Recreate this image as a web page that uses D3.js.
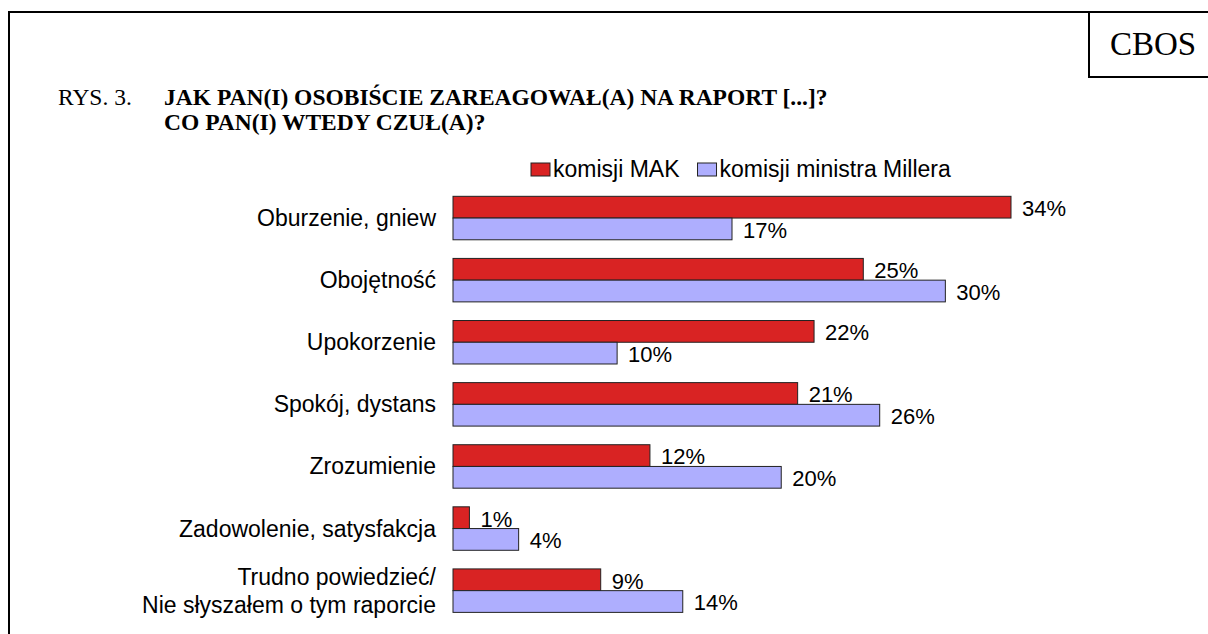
<!DOCTYPE html>
<html>
<head>
<meta charset="utf-8">
<script src="https://cdn.jsdelivr.net/npm/d3@7"></script>
<style>
  body { margin: 0; background: #fff; }
  svg text { fill: #000; }
  .serif { font-family: "Liberation Serif", "Times New Roman", serif; }
  .sans { font-family: "Liberation Sans", Arial, sans-serif; }
</style>
</head>
<body>
<div id="chart"></div>
<script>
// data
const categories = [
  'Oburzenie, gniew',
  'Obojętność',
  'Upokorzenie',
  'Spokój, dystans',
  'Zrozumienie',
  'Zadowolenie, satysfakcja',
  'Trudno powiedzieć/\nNie słyszałem o tym raporcie'
];
const seriesNames = ['komisji MAK', 'komisji ministra Millera'];
const makValues = [34, 25, 22, 21, 12, 1, 9];
const millerValues = [17, 30, 10, 26, 20, 4, 14];
const seriesColors = ['#d92323', '#aeaefe'];
const titleLines = [
  'JAK PAN(I) OSOBIŚCIE ZAREAGOWAŁ(A) NA RAPORT [...]?',
  'CO PAN(I) WTEDY CZUŁ(A)?'
];

const width = 1208;
const height = 634;

const svg = d3.select('#chart').append('svg')
    .attr('width', width)
    .attr('height', height);

// frame + CBOS box
svg.append('path')
    .attr('d', 'M9,' + height + ' V12 H' + width)
    .attr('fill', 'none')
    .attr('stroke', '#000')
    .attr('stroke-width', 2);
svg.append('path')
    .attr('d', 'M1089,12 V77 H' + width)
    .attr('fill', 'none')
    .attr('stroke', '#000')
    .attr('stroke-width', 2);
svg.append('text')
    .attr('class', 'serif')
    .attr('x', 1153)
    .attr('y', 55)
    .attr('text-anchor', 'middle')
    .style('font-size', '33px')
    .text('CBOS');

// title
svg.append('text')
    .attr('class', 'serif')
    .attr('x', 58)
    .attr('y', 105)
    .style('font-size', '23.5px')
    .text('RYS. 3.');
svg.append('text')
    .attr('class', 'serif')
    .attr('y', 105)
    .style('font-size', '23.5px')
    .style('font-weight', 'bold')
    .selectAll('tspan')
    .data(titleLines)
    .enter().append('tspan')
    .attr('x', 164)
    .attr('dy', (d, i) => i === 0 ? 0 : 25)
    .text(d => d);

// scales
const x0 = 453;
const xScale = d3.scaleLinear()
    .domain([0, 34])
    .range([x0, 1011]);

const yScale = d3.scaleBand()
    .domain(categories)
    .range([187, 187 + 62.1 * categories.length])
    .paddingInner(0.3)
    .paddingOuter(0.15);

const ySub = d3.scaleBand()
    .domain(seriesNames)
    .range([0, yScale.bandwidth()]);

const rows = categories.map((c, i) => ({
  cat: c,
  vals: [makValues[i], millerValues[i]]
}));

const group = svg.selectAll('.group')
    .data(rows)
    .enter().append('g')
    .attr('class', 'group')
    .attr('transform', d => 'translate(0,' + yScale(d.cat) + ')');

group.selectAll('rect')
    .data(d => d.vals.map((v, j) => ({ v: v, s: seriesNames[j], j: j })))
    .enter().append('rect')
    .attr('x', x0)
    .attr('y', d => ySub(d.s))
    .attr('width', d => xScale(d.v) - x0)
    .attr('height', ySub.bandwidth())
    .attr('fill', d => seriesColors[d.j])
    .attr('stroke', '#222')
    .attr('stroke-width', 1);

// value labels
group.selectAll('.val')
    .data(d => d.vals.map((v, j) => ({ v: v, s: seriesNames[j], j: j })))
    .enter().append('text')
    .attr('class', 'val sans')
    .attr('x', d => xScale(d.v) + 11)
    .attr('y', d => ySub(d.s) + ySub.bandwidth() - 2)
    .style('font-size', '22px')
    .text(d => d.v + '%');

// category labels
group.append('text')
    .attr('class', 'sans')
    .attr('text-anchor', 'end')
    .style('font-size', '23px')
    .each(function(d) {
      const lines = d.cat.split('\n');
      const bw = yScale.bandwidth();
      d3.select(this).selectAll('tspan')
          .data(lines)
          .enter().append('tspan')
          .attr('x', 436)
          .attr('y', (l, i) => bw / 2 + 8 + (i - (lines.length - 1) / 2) * 28)
          .text(l => l);
    });

// legend
const legend = svg.append('g')
    .attr('transform', 'translate(531,163)');
let lx = 0;
seriesNames.forEach((name, j) => {
  legend.append('rect')
      .attr('x', lx)
      .attr('y', 0)
      .attr('width', 19)
      .attr('height', 13)
      .attr('fill', seriesColors[j])
      .attr('stroke', '#222');
  const t = legend.append('text')
      .attr('class', 'sans')
      .attr('x', lx + 22)
      .attr('y', 14)
      .style('font-size', '23px')
      .text(name);
  lx += 22 + t.node().getComputedTextLength() + 18;
});
</script>
</body>
</html>
